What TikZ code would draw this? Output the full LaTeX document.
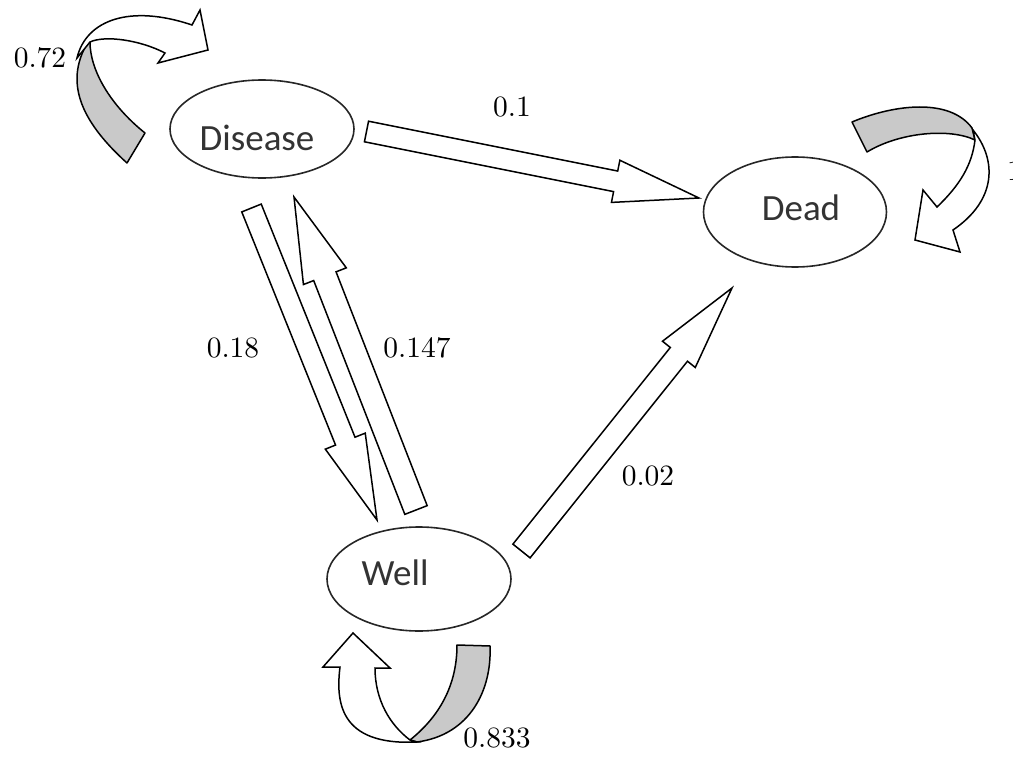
\documentclass[tikz,border=0pt]{standalone}
\usepackage{fontspec}
\newfontfamily\statefont{Carlito}
\newfontfamily\probfont{lmroman10-regular}[Extension=.otf]
\usetikzlibrary{shapes.geometric,calc}
\newcommand{\blockarrow}[4]{%
\coordinate(hb) at ($(#4)!85pt!(#3)$);
\draw[barrow]($(#3)!#1pt!90:(#4)$)--($(hb)!#1pt!90:(#4)$)--($(hb)!#2pt!90:(#4)$)--(#4)--($(hb)!#2pt!-90:(#4)$)--($(hb)!#1pt!-90:(#4)$)--($(#3)!#1pt!-90:(#4)$)--cycle;}
\begin{document}
\begin{tikzpicture}[x=1pt,y=-1pt,
  state/.style={draw=black!85,line width=1.6pt,ellipse,inner sep=0pt},
  statetext/.style={anchor=base,inner sep=0pt,text=black!80,font=\statefont\fontsize{37}{40}\selectfont},
  prob/.style={anchor=base,inner sep=0pt,font=\probfont\fontsize{29.5}{32}\selectfont},
  barrow/.style={draw=black,line width=1.5pt,fill=white,line join=miter},
  loopback/.style={draw=black,line width=1.5pt,fill=gray!42,line join=round},
  loopfront/.style={draw=black,line width=1.5pt,fill=white,line join=miter}]
\useasboundingbox(0,0) rectangle (1013,760);

\node[state,minimum width=184pt,minimum height=98pt](A) at (262,129){};
\node[state,minimum width=183pt,minimum height=110pt](B) at (795,212){};
\node[state,minimum width=184pt,minimum height=104pt](C) at (419,579){};
\node[statetext](A0) at (257,150){Disease};
\node[statetext](B0) at (801,220){Dead};
\node[statetext](C0) at (395,585){Well};

\coordinate(P1) at (366.5,131.5);
\coordinate(P2) at (699,198);
\coordinate(P3) at (251.5,208);
\coordinate(P4) at (377,520);
\coordinate(P5) at (416,510);
\coordinate(P6) at (294,197);
\coordinate(P7) at (521.5,551);
\coordinate(P8) at (732,288);
\blockarrow{10.5}{21.5}{P1}{P2}
\blockarrow{10.5}{21.5}{P3}{P4}
\blockarrow{12}{23}{P5}{P6}
\blockarrow{11}{21}{P7}{P8}

\draw[loopback](127,163) .. controls (85,125) and (62,85) .. (88,42)--(90,42) .. controls (90,70) and (110,105) .. (145,133)--cycle;
\draw[loopfront](77,58) .. controls (86,20) and (130,4) .. (192,25)--(200,10)--(208,50)--(158,63)--(165,53) .. controls (140,40) and (105,35) .. (90,42)--cycle;

\draw[loopback](852,122) .. controls (895,104) and (950,98) .. (972,128)--(975,140) .. controls (950,128) and (900,132) .. (867,152)--cycle;
\draw[loopfront](973,130) .. controls (997,160) and (997,200) .. (953,230)--(960,252)--(915,240)--(923,190)--(937,207) .. controls (960,185) and (972,165) .. (975,140)--cycle;

\draw[loopback](457,645) .. controls (457,690) and (435,720) .. (410,740)--(417,742) .. controls (470,735) and (492,690) .. (490,646)--cycle;
\draw[loopfront](417,742) .. controls (338,746) and (336,700) .. (340,667)--(323,667)--(353,633)--(390,668)--(375,668) .. controls (375,700) and (390,725) .. (410,740)--cycle;

\node[prob](E1) at (40,68){0.72};
\node[prob](E2) at (512,117){0.1};
\node[prob,anchor=base west](E3) at (1007,180){1};
\node[prob](E4) at (233,357){0.18};
\node[prob](E5) at (417,357){0.147};
\node[prob](E6) at (648,485){0.02};
\node[prob](E7) at (497,747){0.833};
\end{tikzpicture}
\end{document}
